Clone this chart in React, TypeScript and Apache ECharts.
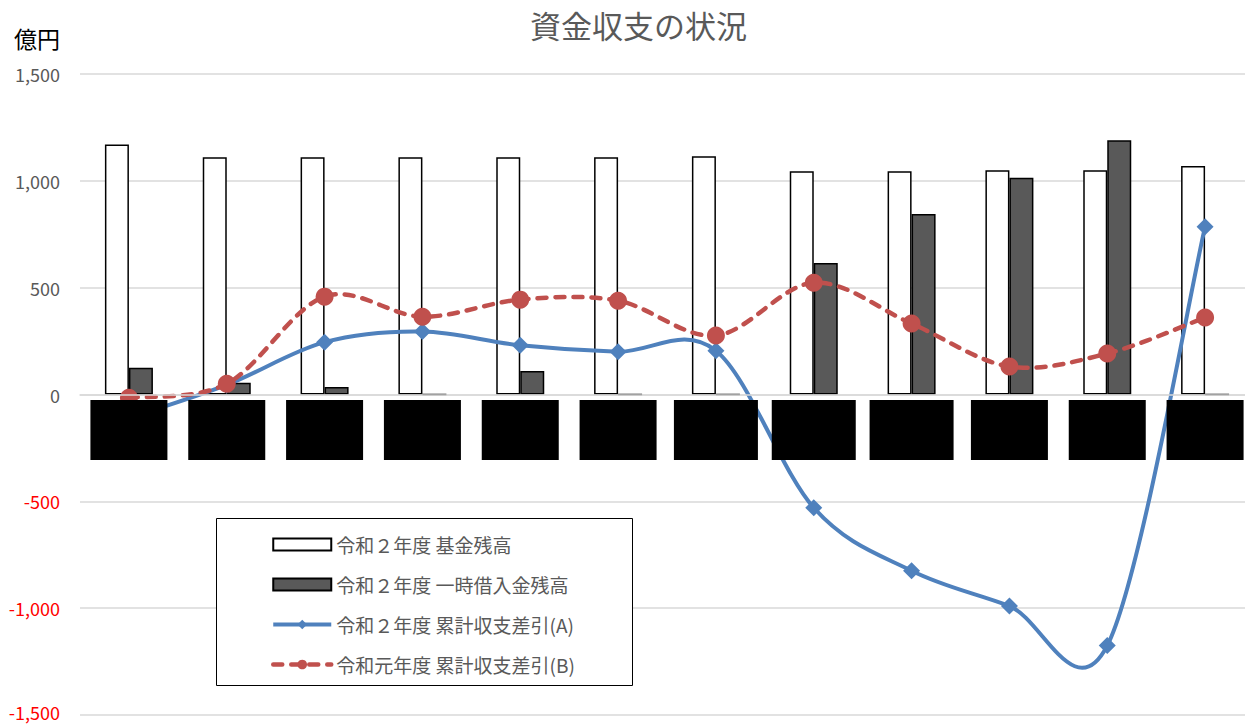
import React, { useEffect, useRef } from "react";
import * as echarts from "echarts";

const categories = ["4月", "5月", "6月", "7月", "8月", "9月", "10月", "11月", "12月", "1月", "2月", "3月"];
const fundBalance = [1170, 1110, 1110, 1110, 1110, 1110, 1115, 1045, 1045, 1050, 1050, 1070];
const borrowing = [125, 55, 35, 0, 110, 0, 0, 615, 845, 1015, 1190, 0];
const cumA = [-110, 45, 245, 295, 230, 200, 205, -530, -825, -990, -1175, 785];
const cumB = [-15, 50, 458, 364, 444, 439, 276, 523, 332, 131, 192, 360];
const wideLabelIdx = [6, 7, 8];
const yTicks = { min: -1500, max: 1500, interval: 500 };

const S1 = "令和２年度 基金残高";
const S2 = "令和２年度 一時借入金残高";
const S3 = "令和２年度 累計収支差引(A)";
const S4 = "令和元年度 累計収支差引(B)";

const FONT = "'Noto Sans CJK JP', 'Noto Sans', sans-serif";
const BLUE = "#4f81bd";
const RED = "#c0504d";

// Excel-like smoothed curve (Catmull-Rom -> cubic Bezier) through points mapped by the axes
function smoothCurve(values: number[], stroke: string, width: number, dash: number[] | null) {
  return (params: any, api: any) => {
    if (params.dataIndex !== 0) return null;
    const pts = values.map((v, i) => api.coord([i, v]));
    let d = `M${pts[0][0]},${pts[0][1]}`;
    for (let i = 0; i < pts.length - 1; i++) {
      const p0 = pts[Math.max(0, i - 1)];
      const p1 = pts[i];
      const p2 = pts[i + 1];
      const p3 = pts[Math.min(pts.length - 1, i + 2)];
      const c1x = p1[0] + (p2[0] - p0[0]) / 6;
      const c1y = p1[1] + (p2[1] - p0[1]) / 6;
      const c2x = p2[0] - (p3[0] - p1[0]) / 6;
      const c2y = p2[1] - (p3[1] - p1[1]) / 6;
      d += ` C${c1x},${c1y} ${c2x},${c2y} ${p2[0]},${p2[1]}`;
    }
    return {
      type: "path",
      shape: { pathData: d },
      style: {
        fill: "none",
        stroke,
        lineWidth: width,
        lineDash: dash || undefined,
        lineCap: dash ? "round" : "butt",
      },
    };
  };
}

export default function App() {
  const ref = useRef<HTMLDivElement>(null);
  useEffect(() => {
    if (!ref.current) return;
    const chart = echarts.init(ref.current, null, { renderer: "svg" });
    chart.setOption({
      animation: false,
      backgroundColor: "#fff",
      textStyle: { fontFamily: FONT },
      title: {
        text: "資金収支の状況",
        left: 525,
        top: 4,
        textStyle: { fontFamily: FONT, fontSize: 31, fontWeight: "normal", color: "#595959" },
      },
      graphic: [
        {
          type: "text",
          left: 14,
          top: 26,
          style: { text: "億円", font: `23px ${FONT}`, fill: "#000" },
        },
        {
          type: "rect",
          z: 50,
          shape: { x: 216.5, y: 518.5, width: 416, height: 167 },
          style: { fill: "#fff", stroke: "#000", lineWidth: 1 },
        },
      ],
      legend: {
        orient: "vertical",
        left: 266,
        top: 530,
        z: 60,
        itemWidth: 58,
        itemHeight: 12,
        itemGap: 21,
        textStyle: { fontFamily: FONT, fontSize: 19, color: "#595959" },
        data: [
          { name: S1, icon: "rect" },
          { name: S2, icon: "rect" },
          { name: S3, lineStyle: { width: 4, color: BLUE, opacity: 1 } },
          { name: S4, lineStyle: { width: 4.5, color: RED, opacity: 1, type: [9, 9], cap: "round" } },
        ],
      },
      grid: { left: 80, right: -9, top: 74, bottom: 9, containLabel: false, outerBoundsMode: "none" },
      xAxis: {
        type: "category",
        data: categories,
        z: 10,
        offset: -320,
        axisLine: { onZero: false, lineStyle: { color: "#d9d9d9", width: 1.5 } },
        axisTick: { show: false },
        axisLabel: {
          margin: 5,
          interval: 0,
          formatter: (v: string, i: number) => (wideLabelIdx.includes(i) ? `{w|${v}}` : `{n|${v}}`),
          rich: {
            n: { width: 77, height: 60, backgroundColor: "#000", color: "#000", align: "center" },
            w: { width: 84, height: 60, backgroundColor: "#000", color: "#000", align: "center" },
          },
        },
      },
      yAxis: {
        type: "value",
        min: yTicks.min,
        max: yTicks.max,
        interval: yTicks.interval,
        axisLine: { show: false },
        axisTick: { show: false },
        splitLine: { lineStyle: { color: "#d9d9d9", width: 1.5 } },
        axisLabel: {
          margin: 20,
          formatter: (v: number) => {
            const s = Math.abs(v).toLocaleString("en-US");
            if (v === yTicks.min) return `{negb|-${s}}`;
            return v < 0 ? `{neg|-${s}}` : `{pos|${s}}`;
          },
          rich: {
            neg: { color: "#ff0000", fontSize: 18, lineHeight: 16, fontFamily: FONT },
            negb: { color: "#ff0000", fontSize: 18, lineHeight: 16, fontFamily: FONT, padding: [0, 0, 6, 0] },
            pos: { color: "#595959", fontSize: 18, lineHeight: 16, fontFamily: FONT },
          },
        },
      },
      series: [
        {
          name: S1,
          type: "bar",
          data: fundBalance,
          barWidth: 24,
          barGap: "0%",
          z: 2,
          itemStyle: { color: "#ffffff", borderColor: "#000", borderWidth: 1.5 },
        },
        {
          name: S2,
          type: "bar",
          data: borrowing,
          barWidth: 24,
          z: 2,
          itemStyle: { color: "#595959", borderColor: "#000", borderWidth: 1.5 },
        },
        {
          name: "curveA",
          type: "custom",
          data: cumA.map((v, i) => [i, v]),
          encode: { x: 0, y: 1 },
          z: 3,
          renderItem: smoothCurve(cumA, BLUE, 4, null),
        },
        {
          name: S3,
          type: "line",
          data: cumA,
          symbol: "diamond",
          symbolSize: 17,
          z: 4,
          lineStyle: { color: BLUE, width: 4, opacity: 0 },
          itemStyle: { color: BLUE },
        },
        {
          name: "curveB",
          type: "custom",
          data: cumB.map((v, i) => [i, v]),
          encode: { x: 0, y: 1 },
          z: 5,
          renderItem: smoothCurve(cumB, RED, 4.5, [9, 9]),
        },
        {
          name: S4,
          type: "line",
          data: cumB,
          symbol: "circle",
          symbolSize: 18,
          z: 6,
          lineStyle: { color: RED, width: 4.5, opacity: 0, type: [9, 9], cap: "round" },
          itemStyle: { color: RED },
        },
      ],
    });
    return () => chart.dispose();
  }, []);
  return (
    <div
      ref={ref}
      style={{ position: "absolute", left: 0, top: 0, width: 1245, height: 724 }}
    />
  );
}
